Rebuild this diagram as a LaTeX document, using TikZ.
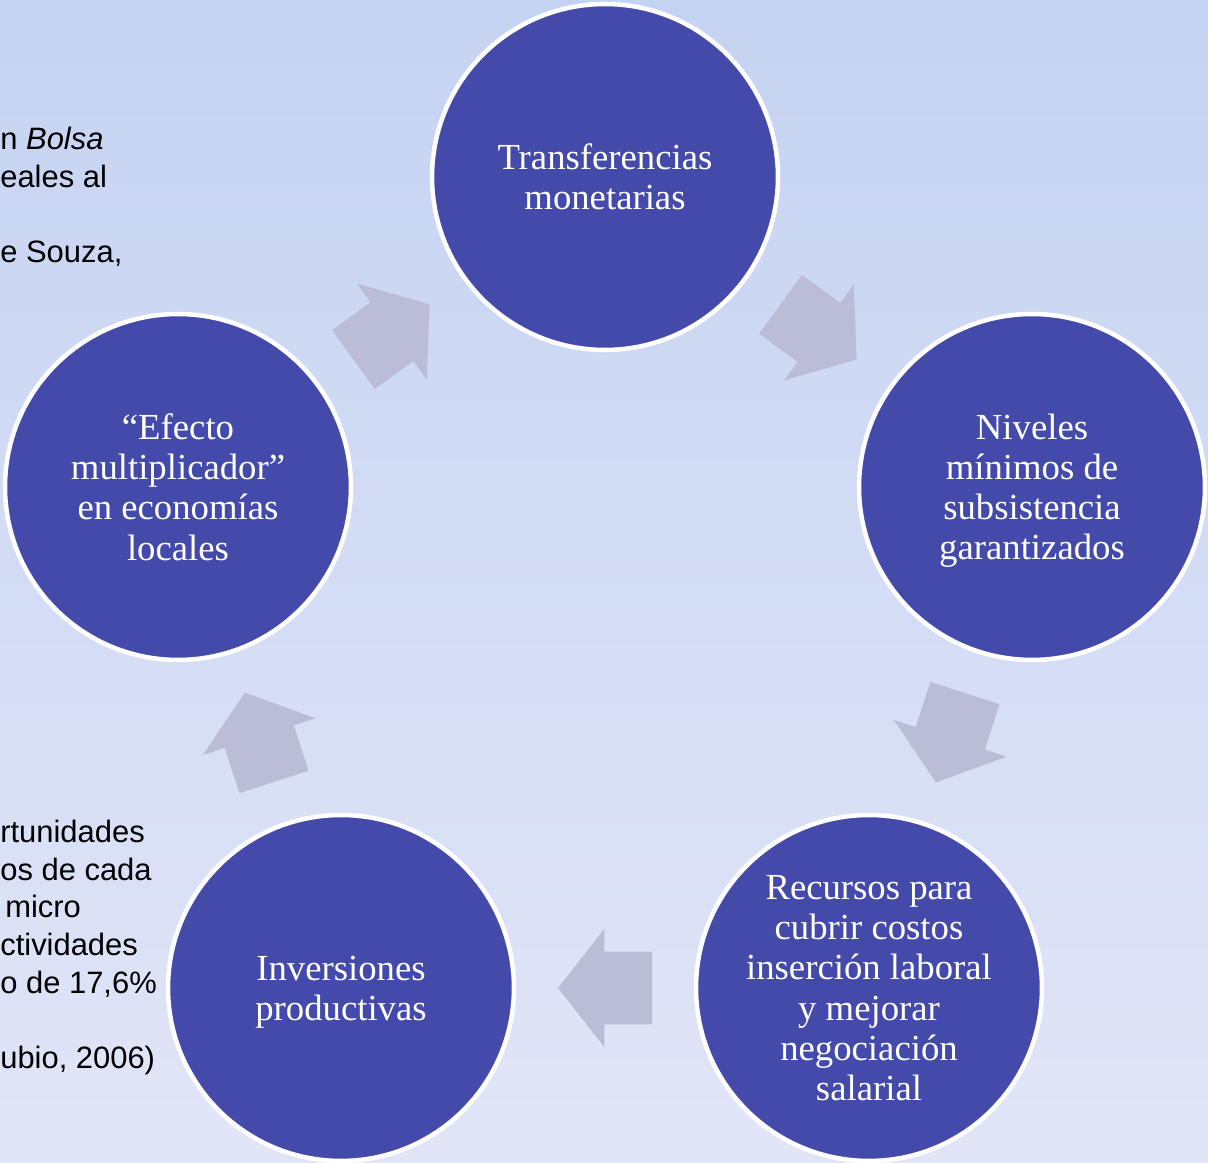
\documentclass[tikz,border=0pt]{standalone}
\usepackage{fontspec}
\setmainfont{Liberation Serif}
\newfontfamily\slidesans{Liberation Sans}
\usetikzlibrary{shapes.arrows}
\definecolor{bgtop}{RGB}{197,211,242}
\definecolor{bgbottom}{RGB}{225,230,247}
\definecolor{circblue}{RGB}{68,74,170}
\definecolor{arrowgray}{RGB}{187,188,214}

\begin{document}
\begin{tikzpicture}[x=0.02cm, y=0.02cm,
  stage/.style={circle, draw=white, line width=0.09cm, fill=circblue,
    minimum size=6.92cm, inner sep=0pt, text=white, align=center,
    text depth=0pt, font=\fontsize{20.9}{22.8}\selectfont},
  cyclearrow/.style={single arrow, fill=arrowgray, draw=none,
    minimum height=1.88cm, minimum width=2.36cm,
    single arrow head extend=0.46cm, single arrow tip angle=104,
    inner xsep=0pt, inner ysep=0.72cm, outer sep=0pt,
    pos=0.235, anchor=tail, sloped, allow upside down},
  sidetext/.style={anchor=base west, align=left, inner sep=0pt,
    font=\slidesans\fontsize{17.6}{21.5}\selectfont}]

\useasboundingbox (0,0) rectangle (1208,1163);
\shade[top color=bgtop, bottom color=bgbottom] (0,0) rectangle (1208,1163);

% text of the slide behind the cycle
\node[sidetext] (txtup) at (0,900) {n \textit{Bolsa}\\eales al\\~\\e Souza,};
\node[sidetext] (txtdown) at (0,94) {rtunidades\\os de cada\\\hspace{0.1cm}micro\\ctividades\\o de 17,6\%\\~\\ubio, 2006)};

% the five stages
\node[stage] (tm) at (605,986) {Transferencias\\monetarias};
\node[stage] (nv) at (1032,676) {Niveles\\mínimos de\\subsistencia\\garantizados};
\node[stage] (rc) at (869,175) {Recursos para\\cubrir costos\\inserción laboral\\y mejorar\\negociación\\salarial};
\node[stage] (ip) at (341,175) {Inversiones\\productivas};
\node[stage] (ef) at (178,676) {“Efecto\\multiplicador”\\en economías\\locales};

% arrows between the stages
\path (tm) -- (nv) node[cyclearrow] (a1) {};
\path (nv) -- (rc) node[cyclearrow] (a2) {};
\path (rc) -- (ip) node[cyclearrow] (a3) {};
\path (ip) -- (ef) node[cyclearrow] (a4) {};
\path (ef) -- (tm) node[cyclearrow] (a5) {};

\end{tikzpicture}
\end{document}
